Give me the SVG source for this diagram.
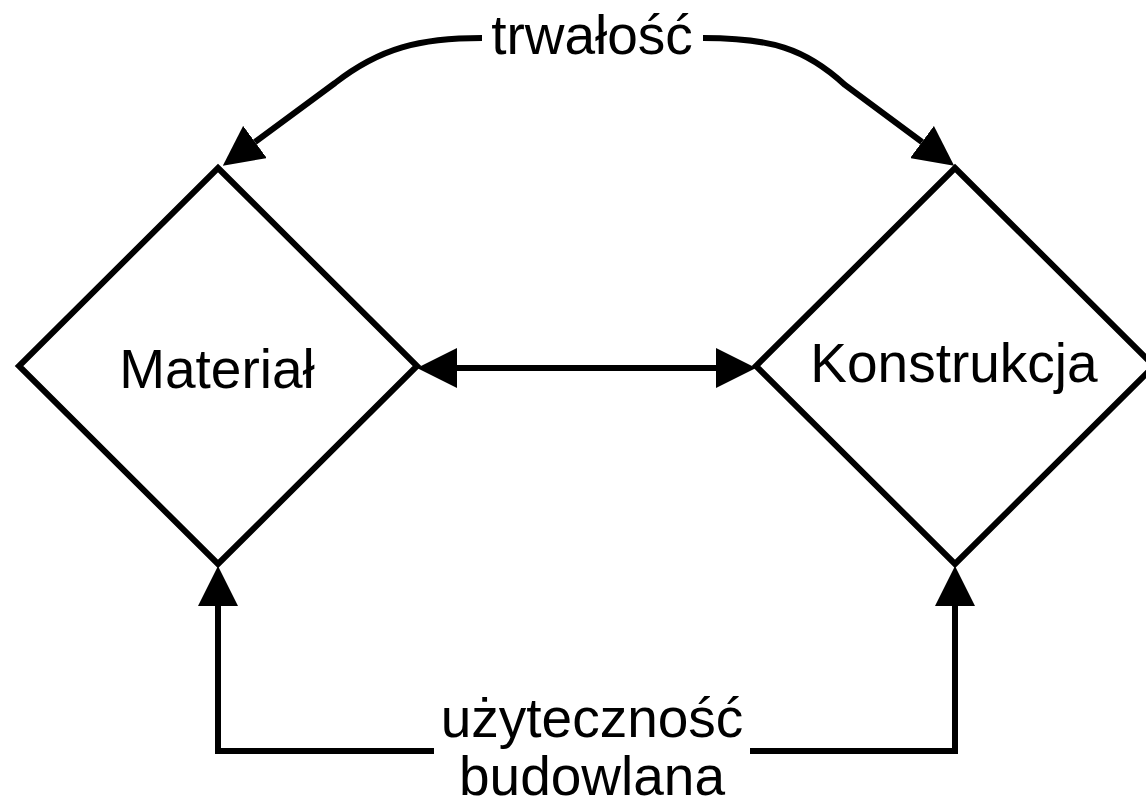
<svg xmlns="http://www.w3.org/2000/svg" width="1146" height="801" viewBox="0 0 1146 801">
  <style>
    .shape { fill: #ffffff; stroke: #000000; stroke-width: 6; stroke-linejoin: miter; }
    .edge { fill: none; stroke: #000000; stroke-width: 6; stroke-linejoin: miter; }
    .lbl { font-family: "Liberation Sans", Arial, sans-serif; font-size: 55px; fill: #000000; text-anchor: middle; }
  </style>
  <defs>
    <marker id="arrow" markerUnits="userSpaceOnUse" markerWidth="40" markerHeight="40" refX="0" refY="19" orient="auto-start-reverse" viewBox="0 0 38 38">
      <path d="M0,0 L38,19 L0,38 Z" fill="#000000"/>
    </marker>
  </defs>
  <rect x="0" y="0" width="1146" height="801" fill="#ffffff"/>
  <g id="connectors">
    <path class="edge" d="M 482 38 C 420 38, 380 48, 335 83 L 255 142" marker-end="url(#arrow)"/>
    <path class="edge" d="M 703 38 C 770 38, 805 48, 845 85 L 922 142" marker-end="url(#arrow)"/>
    <path class="edge" d="M 457 368 L 716 368" marker-start="url(#arrow)" marker-end="url(#arrow)"/>
    <path class="edge" d="M 434 751 L 218 751 L 218 606" marker-end="url(#arrow)"/>
    <path class="edge" d="M 750 751 L 955 751 L 955 606" marker-end="url(#arrow)"/>
  </g>
  <g id="node-material">
    <polygon class="shape" points="218,168 417,366 218,564 19,366"/>
    <text class="lbl" x="217" y="388">Materiał</text>
  </g>
  <g id="node-konstrukcja">
    <polygon class="shape" points="955,168 1154,366 955,564 756,366"/>
    <text class="lbl" x="954" y="382">Konstrukcja</text>
  </g>
  <g id="label-trwalosc">
    <text class="lbl" x="592" y="54">trwałość</text>
  </g>
  <g id="label-uzytecznosc">
    <text class="lbl" x="592" y="737">użyteczność</text>
    <text class="lbl" x="592" y="795">budowlana</text>
  </g>
</svg>
